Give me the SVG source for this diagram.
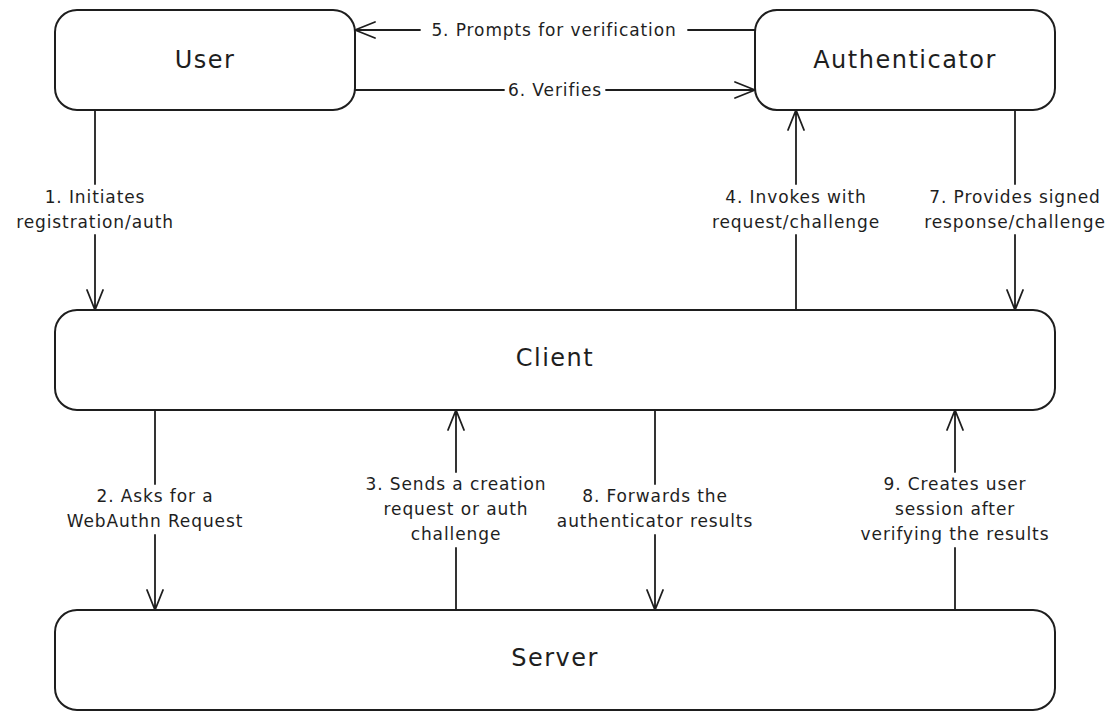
<svg xmlns="http://www.w3.org/2000/svg" width="1114" height="720" viewBox="0 0 1114 720">
<style>
.box{fill:#fff;stroke:#1e1e1e;stroke-width:2}
.title{font-family:"DejaVu Sans","Liberation Sans",sans-serif;font-size:24px;letter-spacing:1.5px;fill:#1e1e1e;text-anchor:middle;dominant-baseline:central}
.lbl{font-family:"DejaVu Sans","Liberation Sans",sans-serif;font-size:17px;letter-spacing:0.9px;fill:#1e1e1e;text-anchor:middle;dominant-baseline:central}
.ln{fill:none;stroke:#1e1e1e;stroke-width:1.8;stroke-linecap:round;stroke-linejoin:round}
</style>
<rect width="1114" height="720" fill="#fff"/>
<g id="user"><rect class="box" x="55" y="10" width="300" height="100" rx="22"/><text class="title" x="205" y="60">User</text></g>
<g id="authenticator"><rect class="box" x="755" y="10" width="300" height="100" rx="22"/><text class="title" x="905" y="60">Authenticator</text></g>
<g id="client"><rect class="box" x="55" y="310" width="1000" height="100" rx="22"/><text class="title" x="555" y="358">Client</text></g>
<g id="server"><rect class="box" x="55" y="610" width="1000" height="100" rx="22"/><text class="title" x="555" y="658">Server</text></g>
<g id="connectors">
<!-- 1 -->
<path class="ln" d="M95 110 V184 M95 235 V310 M87 290 L95 310 L103 290"/>
<text class="lbl" x="95" y="197">1. Initiates</text><text class="lbl" x="95" y="222">registration/auth</text>
<!-- 2 -->
<path class="ln" d="M155 410 V484 M155 535 V610 M147 590 L155 610 L163 590"/>
<text class="lbl" x="155" y="496">2. Asks for a</text><text class="lbl" x="155" y="521">WebAuthn Request</text>
<!-- 3 -->
<path class="ln" d="M456 610 V548 M456 472 V410 M448 430 L456 410 L464 430"/>
<text class="lbl" x="456" y="484">3. Sends a creation</text><text class="lbl" x="456" y="509">request or auth</text><text class="lbl" x="456" y="534">challenge</text>
<!-- 4 -->
<path class="ln" d="M796 310 V235 M796 184 V110 M788 130 L796 110 L804 130"/>
<text class="lbl" x="796" y="197">4. Invokes with</text><text class="lbl" x="796" y="222">request/challenge</text>
<!-- 5 -->
<path class="ln" d="M755 30 H688 M420 30 H355 M375 22 L355 30 L375 38"/>
<text class="lbl" x="554" y="30">5. Prompts for verification</text>
<!-- 6 -->
<path class="ln" d="M355 90 H504 M606 90 H755 M735 82 L755 90 L735 98"/>
<text class="lbl" x="555" y="90">6. Verifies</text>
<!-- 7 -->
<path class="ln" d="M1015 110 V184 M1015 235 V310 M1007 290 L1015 310 L1023 290"/>
<text class="lbl" x="1015" y="197">7. Provides signed</text><text class="lbl" x="1015" y="222">response/challenge</text>
<!-- 8 -->
<path class="ln" d="M655 410 V484 M655 535 V610 M647 590 L655 610 L663 590"/>
<text class="lbl" x="655" y="496">8. Forwards the</text><text class="lbl" x="655" y="521">authenticator results</text>
<!-- 9 -->
<path class="ln" d="M955 610 V548 M955 472 V410 M947 430 L955 410 L963 430"/>
<text class="lbl" x="955" y="484">9. Creates user</text><text class="lbl" x="955" y="509">session after</text><text class="lbl" x="955" y="534">verifying the results</text>
</g>
</svg>
